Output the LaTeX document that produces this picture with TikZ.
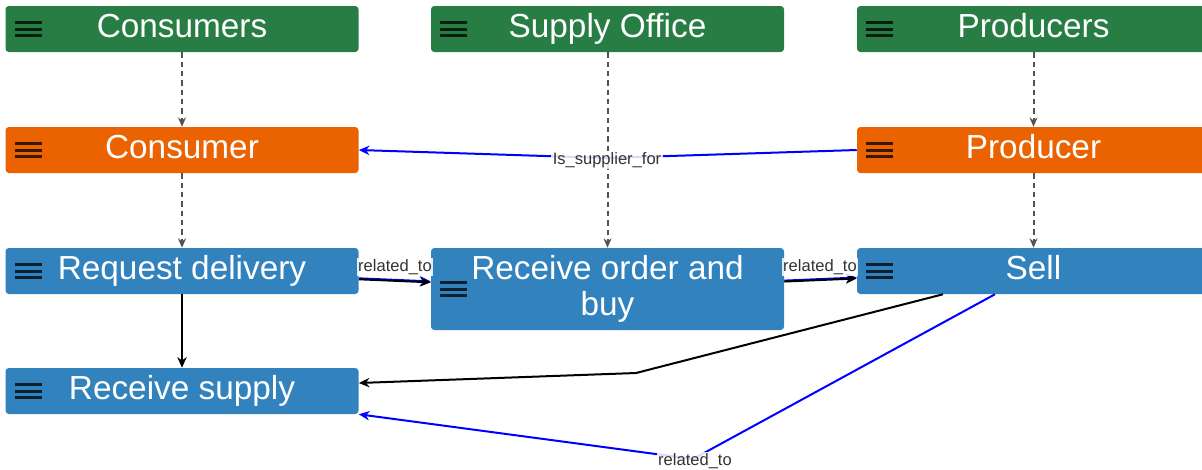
\documentclass[tikz,border=0pt]{standalone}
\usepackage{fontspec}
\setmainfont{Liberation Sans}
\usetikzlibrary{arrows.meta}
\definecolor{groupgreen}{HTML}{287D44}
\definecolor{roleorange}{HTML}{EA6300}
\definecolor{taskblue}{HTML}{3282BD}
\definecolor{linkblue}{HTML}{0000FF}
\tikzset{
  card/.style={rectangle, rounded corners=2.5pt, minimum width=264.75pt,
    minimum height=34.5pt, inner sep=0pt, text=white, align=center,
    text height=18pt, text depth=5pt,
    font=\fontsize{25}{27}\selectfont,
    path picture={
      \foreach \k in {-1,0,1}
        \fill[black,opacity=.75,sharp corners] ([xshift=6.75pt,yshift=\k*4.875pt-1.125pt]path picture bounding box.west)
          rectangle ++(20.25pt,2.25pt);
    }},
  group/.style={card, fill=groupgreen},
  role/.style={card, fill=roleorange},
  task/.style={card, fill=taskblue},
  member/.style={draw=gray!65!black, dash pattern=on 4pt off 3pt, line width=1.5pt,
    -{Stealth[length=7pt,width=6pt]}},
  relation/.style={draw=linkblue, line width=1.5pt, -{Stealth[length=8pt,width=7pt]}},
  flow/.style={draw=black, line width=1.5pt, -{Stealth[length=8pt,width=7pt]}},
  lbl/.style={fill=white, fill opacity=.85, text opacity=1, text=black!80,
    inner sep=1pt, font=\fontsize{12.4}{14}\selectfont}
}
\begin{document}
\begin{tikzpicture}[x=0.75pt,y=-0.75pt]
  \useasboundingbox (0,0) rectangle (1202,469);

  % groups
  \node[group] (consumers) at (182,29) {Consumers};
  \node[group] (supplyoffice) at (607.5,29) {Supply Office};
  \node[group] (producers) at (1033.5,29) {Producers};

  % roles
  \node[role] (consumer) at (182,150) {Consumer};
  \node[role] (producer) at (1033.5,150) {Producer};

  % tasks
  \node[task] (request) at (182,271) {Request delivery};
  \node[task, minimum height=61.5pt, text height=45pt] (receiveorder) at (607.5,289) {Receive order and\\buy};
  \node[task] (sell) at (1033.5,271) {Sell};
  \node[task] (receivesupply) at (182,391) {Receive supply};

  \draw[member] (consumers) -- (consumer);
  \draw[member] (consumer) -- (request);
  \draw[member] (supplyoffice) -- (receiveorder);
  \draw[member] (producers) -- (producer);
  \draw[member] (producer) -- (sell);
  \draw[flow] (request) -- (receivesupply);

  \coordinate (bend1) at (607,158);
  \draw[relation] (producer.west) -- (bend1) -- (consumer.east);
  \node[lbl] (isfor) at (607,160) {Is\_supplier\_for};

  \draw[relation] ([yshift=-5.5pt]request.east) -- ([yshift=5.7pt]receiveorder.west);
  \draw[flow] ([yshift=-6.2pt]request.east) -- ([yshift=5pt]receiveorder.west);
  \node[lbl] (rel1) at (395,267) {related\_to};

  \draw[relation] ([yshift=6.3pt]receiveorder.east) -- ([yshift=-4.9pt]sell.west);
  \draw[flow] ([yshift=5.6pt]receiveorder.east) -- ([yshift=-5.6pt]sell.west);
  \node[lbl] (rel2) at (820,267) {related\_to};

  \coordinate (bend2) at (636,373);
  \draw[flow] ([xshift=-67.9pt]sell.south) -- (bend2) -- ([yshift=6pt]receivesupply.east);

  \coordinate (bend3) at (693,459);
  \draw[relation] ([xshift=-28.9pt]sell.south) -- (bend3) -- (receivesupply.south east);
  \node[lbl] (rel3) at (695,461) {related\_to};
\end{tikzpicture}
\end{document}
